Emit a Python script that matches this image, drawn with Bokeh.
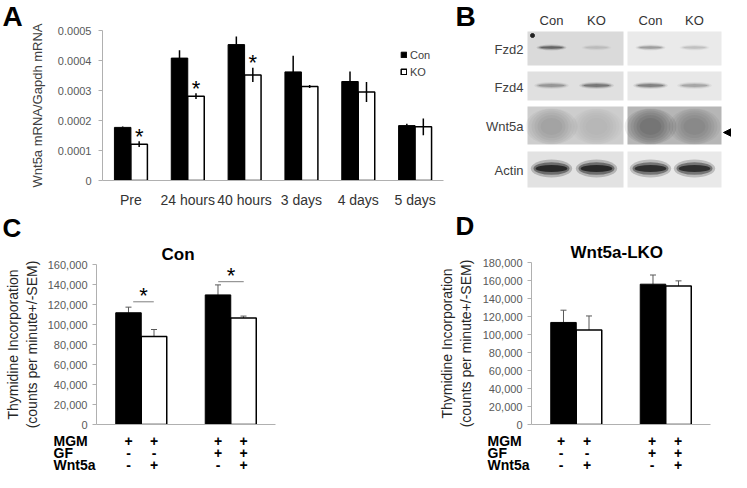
from bokeh.plotting import figure
from bokeh.layouts import row, column
from bokeh.models import (FactorRange, Range1d, FixedTicker, CustomJSTickFormatter, NumeralTickFormatter,
                          ColumnDataSource, Whisker, TeeHead, Legend, LegendItem, Arrow, NormalHead)
from bokeh.transform import dodge
from bokeh.core.properties import value
from bokeh.embed import file_html
from bokeh.resources import INLINE

FONT = "Liberation Sans"

# ---------------- data: panel A ----------------
timepoints = ["Pre", "24 hours", "40 hours", "3 days", "4 days", "5 days"]
a_con = [0.000177, 0.000408, 0.000453, 0.000362, 0.000330, 0.000183]
a_con_err = [0.000003, 0.000026, 0.000027, 0.000054, 0.000033, 0.000006]
a_ko = [0.000121, 0.000281, 0.000352, 0.000313, 0.000295, 0.000179]
a_ko_err = [0.0000095, 0.0000095, 0.000024, 0.000005, 0.0000335, 0.000028]
a_sig = [True, True, True, False, False, False]
a_yticks = [0, 0.0001, 0.0002, 0.0003, 0.0004, 0.0005]
a_ylabel = "Wnt5a mRNA/Gapdh mRNA"

# ---------------- data: panel B (blot) ----------------
blot_rows = ["Fzd2", "Fzd4", "Wnt5a", "Actin"]
blot_lanes = ["Con", "KO", "Con", "KO"]
fzd2_band = [0.55, 0.12, 0.30, 0.15]
fzd4_band = [0.30, 0.45, 0.42, 0.25]
wnt5a_band = [0.34, 0.16, 0.66, 0.42]
actin_band = [1.0, 1.0, 0.95, 0.95]

# ---------------- data: panels C / D ----------------
treat_names = ["MGM", "GF", "Wnt5a"]
treat_mgm = ["+", "+", "+", "+"]
treat_gf = ["-", "-", "+", "+"]
treat_wnt5a = ["-", "+", "-", "+"]
c_ctrl = [111750, 129600]
c_ctrl_err = [5600, 10000]
c_wnt = [88000, 106400]
c_wnt_err = [7000, 2000]
c_sig_y = [122700, 142800]
d_ctrl = [113400, 155900]
d_ctrl_err = [13600, 10200]
d_wnt = [105000, 154000]
d_wnt_err = [15600, 5600]
c_yticks = [0, 20000, 40000, 60000, 80000, 100000, 120000, 140000, 160000]
d_yticks = [0, 20000, 40000, 60000, 80000, 100000, 120000, 140000, 160000, 180000]
cd_ylabel = "Thymidine Incorporation\n(counts per minute+/-SEM)"

AXIS_GRAY = "#b0b0b0"
TICK_TXT = "#595959"


def base_fig(width, height, x_range, y_range, left, right, top, bottom):
    p = figure(width=width, height=height, x_range=x_range, y_range=y_range,
               output_backend="svg", toolbar_location=None,
               min_border_left=left, min_border_right=right,
               min_border_top=top, min_border_bottom=bottom)
    p.outline_line_color = None
    p.grid.visible = False
    return p


def pix_fig(width, height, x_range=None):
    p = figure(width=width, height=height,
               x_range=x_range if x_range is not None else Range1d(0, width),
               y_range=Range1d(0, height), output_backend="svg", toolbar_location=None,
               min_border=0, x_axis_location=None, y_axis_location=None)
    p.outline_line_color = None
    p.grid.visible = False
    return p


def wrap(f):
    # isolate each figure so that sibling frames are not aligned to each other
    return column(f)


def style_y(p, ticks, standoff):
    ax = p.yaxis[0]
    ax.ticker = FixedTicker(ticks=ticks)
    ax.axis_line_color = AXIS_GRAY
    ax.major_tick_line_color = AXIS_GRAY
    ax.major_tick_out = 4
    ax.major_tick_in = 0
    ax.minor_tick_line_color = None
    ax.major_label_text_font = FONT
    ax.major_label_text_font_size = "11px"
    ax.major_label_text_color = TICK_TXT
    ax.major_label_standoff = standoff
    ax.axis_label_text_font = FONT
    ax.axis_label_text_font_style = "normal"


def ptext(p, H, xs, ys, texts, size, align="center", baseline="middle", bold=False, color="black"):
    p.text(x=xs, y=[H - y for y in ys], text=texts, text_align=align, text_baseline=baseline,
           text_font=value(FONT), text_font_size=size, text_font_style="bold" if bold else "normal",
           text_color=color)


# ================= Panel A =================
HT = 210
stripA = pix_fig(26, HT)
ptext(stripA, HT, [2], [16], ["A"], "28px", align="left", bold=True)

WPA = 427
LA, TA, WA, HA = 71, 30, 346, 156
pa = base_fig(WPA, HT, FactorRange(factors=timepoints), Range1d(0, 0.0005), LA, WPA - LA - WA, TA, HT - TA - HA)
style_y(pa, a_yticks, 7)
pa.yaxis.formatter = CustomJSTickFormatter(code="return tick == 0 ? '0' : tick.toFixed(4);")
pa.yaxis.axis_label = a_ylabel
pa.yaxis.axis_label_text_font_size = "13px"
pa.yaxis.axis_label_text_color = "#404040"
pa.yaxis.axis_label_standoff = 10
pa.xaxis.axis_line_color = AXIS_GRAY
pa.xaxis.major_tick_line_color = None
pa.xaxis.minor_tick_line_color = None
pa.xaxis.major_label_text_font = FONT
pa.xaxis.major_label_text_font_size = "14px"
pa.xaxis.major_label_text_color = "#333333"
pa.xaxis.major_label_standoff = 5

srcA = ColumnDataSource(dict(
    cat=timepoints, con=a_con, ko=a_ko,
    con_hi=[v + e for v, e in zip(a_con, a_con_err)],
    ko_lo=[v - e for v, e in zip(a_ko, a_ko_err)],
    ko_hi=[v + e for v, e in zip(a_ko, a_ko_err)],
    star=["*" if s else "" for s in a_sig]))
BW = 0.29
xcon = dodge("cat", -BW / 2, range=pa.x_range)
xko = dodge("cat", BW / 2, range=pa.x_range)
r_con = pa.vbar(x=xcon, top="con", width=BW, source=srcA, fill_color="black", line_color="black")
r_ko = pa.vbar(x=xko, top="ko", width=BW, source=srcA, fill_color="white", line_color="black", line_width=1.5)
pa.segment(x0=xcon, y0="con", x1=xcon, y1="con_hi", source=srcA, line_color="black", line_width=1.5)
pa.segment(x0=xko, y0="ko_lo", x1=xko, y1="ko_hi", source=srcA, line_color="black", line_width=1.5)
pa.text(x=xko, y="ko_hi", text="star", source=srcA, text_align="center", text_baseline="alphabetic",
        text_font=value(FONT), text_font_size="22px", y_offset=-5, text_color="black")
legA = Legend(items=[LegendItem(label="Con", renderers=[r_con]), LegendItem(label="KO", renderers=[r_ko])],
              location=(298, 102), glyph_width=7, glyph_height=7, label_height=13, label_standoff=3,
              spacing=4, padding=0, margin=0, border_line_color=None, background_fill_alpha=0,
              label_text_font=FONT, label_text_font_size="11px", label_text_color="#404040")
pa.add_layout(legA)

# ================= Panel B (blot) =================
WB_ = 278
pb = figure(width=WB_, height=HT, x_range=Range1d(0, WB_), y_range=Range1d(HT, 0),
            output_backend="svg", toolbar_location=None, min_border=0,
            x_axis_location=None, y_axis_location=None)
pb.outline_line_color = None
pb.grid.visible = False

block_x = [(74, 170), (174, 268)]
row_y = [(31, 65), (71, 100), (106, 144), (151, 187)]
lane_cx = [98, 143, 197, 241]
row_bg = [("#dadada", "#eaeaea"), ("#e0e0e0", "#e8e8e8"), ("#cdcdcd", "#b6b6b6"), ("#e2e2e2", "#e9e9e9")]
band_geom = [(16, 3, 26), (14, 3.5, 30), (19, 0, 0), (17, 9, 36)]
bands = [fzd2_band, fzd4_band, wnt5a_band, actin_band]

ql, qr, qt, qb, qc = [], [], [], [], []
for r, (t, b) in enumerate(row_y):
    for k, (l, rr) in enumerate(block_x):
        ql.append(l); qr.append(rr); qt.append(t); qb.append(b); qc.append(row_bg[r][k])
pb.quad(left=ql, right=qr, top=qt, bottom=qb, fill_color=qc, line_color=None)

ex, ey, ew, eh, ea = [], [], [], [], []
for r, (t, b) in enumerate(row_y):
    off, th, wd = band_geom[r]
    for i, s in enumerate(bands[r]):
        if blot_rows[r] == "Wnt5a":
            for w, h in [(52, 36), (46, 35), (40, 32), (34, 28), (28, 23), (22, 17)]:
                ex.append(lane_cx[i]); ey.append((t + b) / 2 + 1)
                ew.append(w); eh.append(h); ea.append(s * 0.1)
        else:
            for wf, hf, af in [(1.15, 2.0, 0.2), (1.0, 1.4, 0.4), (0.88, 0.8, 0.62)]:
                ex.append(lane_cx[i]); ey.append(t + off)
                ew.append(wd * wf); eh.append(min(th * hf, (b - t) - 4))
                ea.append(s * af)
pb.ellipse(x=ex, y=ey, width=ew, height=eh, fill_color="black", fill_alpha=ea, line_color=None)
pb.scatter(x=[lane_cx[0] - 19], y=[row_y[0][0] + 4], size=4, color="#222222")

pb.text(x=lane_cx, y=[20] * 4, text=blot_lanes, text_align="center", text_baseline="middle",
        text_font=value(FONT), text_font_size="13px", text_color="#333333")
pb.text(x=[70] * 4, y=[(t + b) / 2 + 1 for t, b in row_y], text=blot_rows, text_align="right",
        text_baseline="middle", text_font=value(FONT), text_font_size="13px", text_color="#404040")
pb.text(x=[2], y=[16], text=["B"], text_align="left", text_baseline="middle",
        text_font=value(FONT), text_font_size="28px", text_font_style="bold", text_color="black")
pb.add_layout(Arrow(end=NormalHead(size=11, fill_color="black", line_color="black"),
                    x_start=278, y_start=132, x_end=270, y_end=132, line_width=2.5, line_color="black"))


# ================= Panels C / D =================
def bar_block(width, HH, HC, L, W, T, H, ymax, ticks, ctrl, ctrl_err, wnt, wnt_err,
              title, title_off, letter_txt, letter_x, letter_y, ylab_standoff, name_x, sig_y=None):
    HTAB = 262 - HH - HC
    hdr = pix_fig(width, HH)
    ptext(hdr, HH, [letter_x], [letter_y], [letter_txt], "26px", align="left", bold=True)

    p = base_fig(width, HC, Range1d(0, 2), Range1d(0, ymax), L, width - L - W, T, HC - T - H)
    style_y(p, ticks, 5)
    p.yaxis.formatter = NumeralTickFormatter(format="0,0")
    p.yaxis.axis_label = cd_ylabel
    p.yaxis.axis_label_text_font_size = "14px"
    p.yaxis.axis_label_text_color = "#262626"
    p.yaxis.axis_label_standoff = ylab_standoff
    p.xaxis.ticker = FixedTicker(ticks=[])
    p.xaxis.axis_line_color = AXIS_GRAY
    p.xaxis.major_tick_line_color = None
    p.xaxis.minor_tick_line_color = None
    p.title.text = title
    p.title.align = "left"
    p.title.offset = title_off
    p.title.standoff = 1
    p.title.text_font = FONT
    p.title.text_font_size = "17px"
    p.title.text_font_style = "bold"
    p.title.text_color = "black"

    bw = 0.285
    g = [i + 0.5 for i in range(len(ctrl))]
    xc = [v - bw / 2 for v in g]
    xw = [v + bw / 2 for v in g]
    p.vbar(x=xc, top=ctrl, width=bw, fill_color="black", line_color="black")
    p.vbar(x=xw, top=wnt, width=bw, fill_color="white", line_color="black", line_width=1.5)
    sc = ColumnDataSource(dict(x=xc, lo=ctrl, hi=[v + e for v, e in zip(ctrl, ctrl_err)]))
    sw = ColumnDataSource(dict(x=xw, lo=[v - e for v, e in zip(wnt, wnt_err)],
                               hi=[v + e for v, e in zip(wnt, wnt_err)]))
    p.add_layout(Whisker(base="x", lower="lo", upper="hi", source=sc, line_color="#595959", line_width=1,
                         upper_head=TeeHead(size=6, line_color="#595959", line_width=1), lower_head=None))
    p.add_layout(Whisker(base="x", lower="lo", upper="hi", source=sw, line_color="#595959", line_width=1,
                         upper_head=TeeHead(size=6, line_color="#595959", line_width=1),
                         lower_head=TeeHead(size=6, line_color="#595959", line_width=1)))
    if sig_y is not None:
        x0 = [g[0] - 0.09, g[1] - 0.14]
        x1 = [g[0] + 0.14, g[1] + 0.145]
        p.segment(x0=x0, y0=sig_y, x1=x1, y1=sig_y, line_color="#7f7f7f", line_width=1)
        p.text(x=[(a + b) / 2 for a, b in zip(x0, x1)], y=sig_y, text=["*"] * len(sig_y),
               text_align="center", text_baseline="alphabetic", y_offset=-6,
               text_font=value(FONT), text_font_size="22px", text_color="black")

    # treatment table below, sharing the chart's x scale
    units_per_px = 2.0 / W
    tab = pix_fig(width, HTAB, x_range=Range1d(-L * units_per_px, (width - L) * units_per_px))
    xs = []
    for a, b in zip(xc, xw):
        xs += [a, b]
    rows_y = [8, 20, 32]
    for col, yy in zip([treat_mgm, treat_gf, treat_wnt5a], rows_y):
        ptext(tab, HTAB, xs, [yy] * len(xs), col, "14px", bold=True)
    ptext(tab, HTAB, [(name_x - L) * units_per_px] * 3, rows_y, treat_names, "14px", align="left", bold=True)
    return column(wrap(hdr), wrap(p), wrap(tab))


# C: header 32 (210-242), chart 190 (242-432), table 40 (432-472)
blockC = bar_block(435, 32, 190, 96, 179, 21, 161, 160000, c_yticks, c_ctrl, c_ctrl_err, c_wnt, c_wnt_err,
                   "Con", 65, "C", 2, 17, 5, 53, sig_y=c_sig_y)
# D: header 30 (210-240), chart 192 (240-432), table 40 (432-472)
blockD = bar_block(296, 30, 192, 93, 182, 21, 163, 180000, d_yticks, d_ctrl, d_ctrl_err, d_wnt, d_wnt_err,
                   "Wnt5a-LKO", 39, "D", 20, 15, 6, 52)

layout = column(row(wrap(stripA), wrap(pa), wrap(pb)), row(blockC, blockD))
open("out.html", "w").write(file_html(layout, INLINE))
